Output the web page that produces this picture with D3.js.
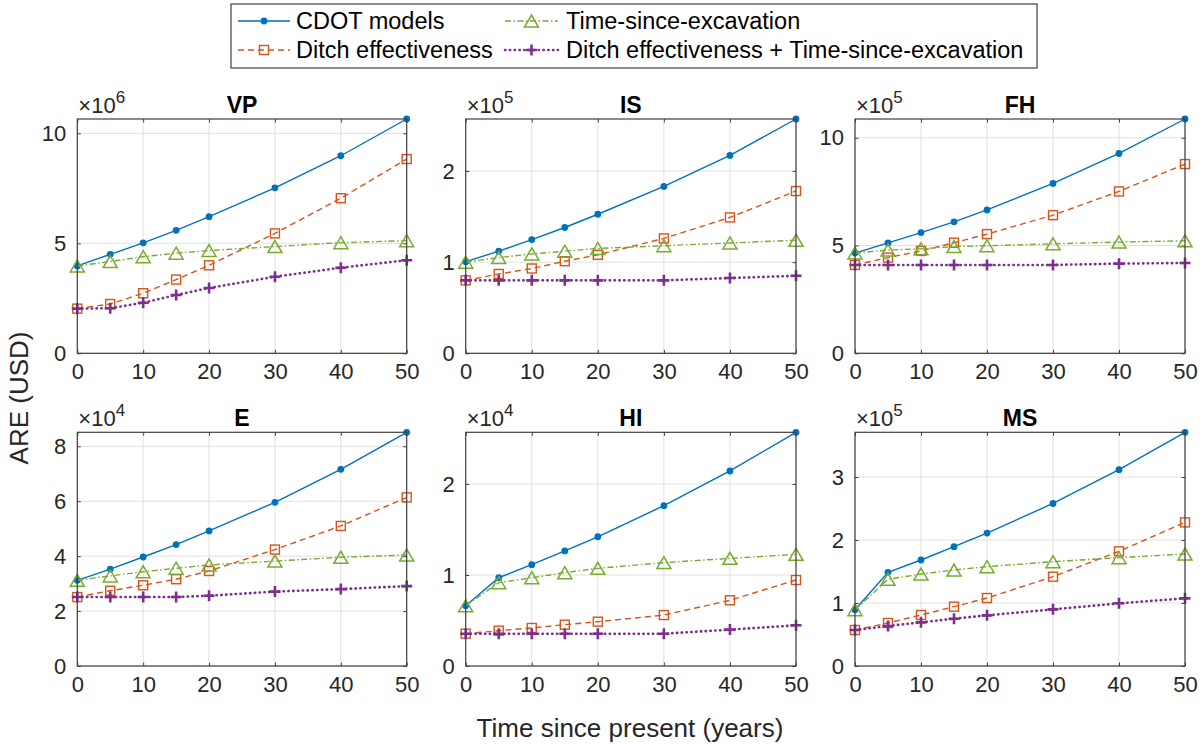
<!DOCTYPE html>
<html>
<head>
<meta charset="utf-8">
<script src="https://cdn.jsdelivr.net/npm/d3@7"></script>
<style>
  html, body { margin: 0; padding: 0; background: #fff; }
  svg { display: block; font-family: "Liberation Sans", Arial, Helvetica, sans-serif; }
</style>
</head>
<body>
<svg id="chart" width="1202" height="744"></svg>
<script>
// ---------------- DATA ----------------
const years = [0, 5, 10, 15, 20, 30, 40, 50];
const panelNames = ["VP", "IS", "FH", "E", "HI", "MS"];
const exponents = [6, 5, 5, 4, 4, 5];
const yTickValues = [
  [0, 5, 10],
  [0, 1, 2],
  [0, 5, 10],
  [0, 2, 4, 6, 8],
  [0, 1, 2],
  [0, 1, 2, 3]
];
const xTickValues = [0, 10, 20, 30, 40, 50];
const seriesNames = ["CDOT models", "Ditch effectiveness", "Time-since-excavation", "Ditch effectiveness + Time-since-excavation"];

// values in units of 10^exponent, one row per panel
const cdotModels = [
  [3.97, 4.50, 5.02, 5.59, 6.21, 7.52, 8.98, 10.65],
  [1.005, 1.12, 1.247, 1.38, 1.525, 1.83, 2.17, 2.57],
  [4.65, 5.12, 5.60, 6.10, 6.65, 7.88, 9.27, 10.87],
  [3.12, 3.53, 3.97, 4.42, 4.92, 5.96, 7.16, 8.51],
  [0.663, 0.97, 1.113, 1.264, 1.42, 1.762, 2.143, 2.568],
  [0.894, 1.487, 1.683, 1.894, 2.11, 2.58, 3.116, 3.71]
];
const ditchEffectiveness = [
  [2.03, 2.24, 2.73, 3.35, 4.00, 5.45, 7.05, 8.83],
  [0.80, 0.87, 0.93, 1.01, 1.08, 1.26, 1.49, 1.78],
  [4.10, 4.44, 4.75, 5.13, 5.53, 6.41, 7.51, 8.78],
  [2.51, 2.74, 2.94, 3.16, 3.46, 4.24, 5.10, 6.14],
  [0.355, 0.388, 0.418, 0.454, 0.487, 0.56, 0.722, 0.945],
  [0.571, 0.683, 0.81, 0.942, 1.079, 1.418, 1.82, 2.28]
];
const timeSinceExcavation = [
  [3.97, 4.17, 4.39, 4.55, 4.67, 4.85, 5.03, 5.12],
  [1.00, 1.05, 1.09, 1.12, 1.15, 1.18, 1.21, 1.24],
  [4.65, 4.79, 4.85, 4.95, 4.99, 5.08, 5.16, 5.22],
  [3.12, 3.28, 3.43, 3.56, 3.68, 3.82, 3.96, 4.04],
  [0.663, 0.916, 0.97, 1.026, 1.073, 1.136, 1.183, 1.227],
  [0.894, 1.376, 1.46, 1.524, 1.577, 1.656, 1.72, 1.778]
];
const ditchPlusTime = [
  [2.03, 2.05, 2.30, 2.65, 2.97, 3.48, 3.89, 4.23],
  [0.80, 0.80, 0.80, 0.80, 0.80, 0.80, 0.826, 0.85],
  [4.10, 4.10, 4.10, 4.10, 4.10, 4.10, 4.16, 4.19],
  [2.51, 2.51, 2.51, 2.51, 2.56, 2.71, 2.80, 2.91],
  [0.355, 0.355, 0.355, 0.355, 0.355, 0.355, 0.40, 0.447],
  [0.571, 0.635, 0.693, 0.751, 0.804, 0.899, 0.995, 1.074]
];

// ---------------- STYLES ----------------
const allSeries = [cdotModels, ditchEffectiveness, timeSinceExcavation, ditchPlusTime];
const styles = [
  { color: "#0072BD", width: 1.4, dash: null, marker: "dot", cap: "butt" },
  { color: "#D95319", width: 1.4, dash: "6,4", marker: "square", cap: "butt" },
  { color: "#77AC30", width: 1.4, dash: "6,2.5,1.5,2.5", marker: "triangle", cap: "butt" },
  { color: "#7E2F8E", width: 2.6, dash: "0.4,4.4", marker: "plus", cap: "round" }
];

const colLeft = [77.3, 465.7, 855];
const colRight = [406.7, 796, 1185];
const rowTop = [119, 432.3];
const rowBottom = [353.3, 666];

const svg = d3.select("#chart");
const textColor = "#262626";

function drawMarker(g, type, x, y, color) {
  if (type === "dot") {
    g.append("circle").attr("cx", x).attr("cy", y).attr("r", 3.4).attr("fill", color);
  } else if (type === "square") {
    const s = 9;
    g.append("rect").attr("x", x - s / 2).attr("y", y - s / 2).attr("width", s).attr("height", s)
      .attr("fill", "none").attr("stroke", color).attr("stroke-width", 1.4);
  } else if (type === "triangle") {
    const h = 12, w = 14;
    g.append("path").attr("d", `M${x},${y - h / 2}L${x + w / 2},${y + h / 2}L${x - w / 2},${y + h / 2}Z`)
      .attr("fill", "none").attr("stroke", color).attr("stroke-width", 1.5);
  } else if (type === "plus") {
    const s = 5.5;
    g.append("path").attr("d", `M${x - s},${y}H${x + s}M${x},${y - s}V${y + s}`)
      .attr("stroke", color).attr("stroke-width", 2.6);
  }
}

panelNames.forEach((name, i) => {
  const col = i % 3, row = Math.floor(i / 3);
  const L = colLeft[col], R = colRight[col], T = rowTop[row], B = rowBottom[row];
  const ymax = d3.max(allSeries, s => d3.max(s[i]));
  const x = d3.scaleLinear().domain([0, 50]).range([L, R]);
  const y = d3.scaleLinear().domain([0, ymax]).range([B, T]);
  const g = svg.append("g");

  // grid
  g.append("g").selectAll("line").data(xTickValues).join("line")
    .attr("x1", d => x(d)).attr("x2", d => x(d)).attr("y1", T).attr("y2", B)
    .attr("stroke", "#e0e0e0").attr("stroke-width", 1);
  g.append("g").selectAll("line").data(yTickValues[i]).join("line")
    .attr("x1", L).attr("x2", R).attr("y1", d => y(d)).attr("y2", d => y(d))
    .attr("stroke", "#e0e0e0").attr("stroke-width", 1);

  // axes via d3 axes (ticks inside)
  const xAxis = d3.axisBottom(x).tickValues(xTickValues).tickSize(-3.5).tickPadding(9).tickFormat(d3.format("d"));
  const xAxisTop = d3.axisTop(x).tickValues(xTickValues).tickSize(-3.5).tickFormat("");
  const yAxis = d3.axisLeft(y).tickValues(yTickValues[i]).tickSize(-3.5).tickPadding(11).tickFormat(d3.format("d"));
  const yAxisRight = d3.axisRight(y).tickValues(yTickValues[i]).tickSize(-3.5).tickFormat("");

  const gx = g.append("g").attr("transform", `translate(0,${B})`).call(xAxis);
  const gxt = g.append("g").attr("transform", `translate(0,${T})`).call(xAxisTop);
  const gy = g.append("g").attr("transform", `translate(${L},0)`).call(yAxis);
  const gyr = g.append("g").attr("transform", `translate(${R},0)`).call(yAxisRight);
  [gx, gxt, gy, gyr].forEach(a => {
    a.select(".domain").remove();
    a.selectAll(".tick line").attr("stroke", "#404040").attr("stroke-width", 1);
    a.selectAll(".tick text").attr("fill", textColor).attr("font-size", 22)
      .attr("font-family", "'Liberation Sans', Arial, sans-serif");
  });
  gx.selectAll(".tick text").attr("dy", "0.75em");

  // data lines
  allSeries.forEach((s, k) => {
    const st = styles[k];
    const line = d3.line().x((d, j) => x(years[j])).y(d => y(d));
    g.append("path").datum(s[i]).attr("d", line).attr("fill", "none")
      .attr("stroke", st.color).attr("stroke-width", st.width)
      .attr("stroke-dasharray", st.dash)
      .attr("stroke-linecap", st.cap);
    const mg = g.append("g");
    s[i].forEach((v, j) => drawMarker(mg, st.marker, x(years[j]), y(v), st.color));
  });

  // box
  g.append("rect").attr("x", L).attr("y", T).attr("width", R - L).attr("height", B - T)
    .attr("fill", "none").attr("stroke", "#404040").attr("stroke-width", 1.2);

  // title
  g.append("text").attr("x", (L + R) / 2).attr("y", T - 6).attr("text-anchor", "middle")
    .attr("font-size", 23).attr("font-weight", "bold").attr("fill", "#000").text(name);

  // exponent label
  const ex = g.append("text").attr("x", L + 1).attr("y", T - 6).attr("font-size", 22).attr("fill", textColor);
  ex.append("tspan").text("×10");
  ex.append("tspan").attr("dy", -10).attr("font-size", 17).text(exponents[i]);
});

// axis labels
svg.append("text").attr("transform", "translate(28,398) rotate(-90)").attr("text-anchor", "middle")
  .attr("font-size", 26).attr("fill", textColor).text("ARE (USD)");
svg.append("text").attr("x", 630).attr("y", 737).attr("text-anchor", "middle")
  .attr("font-size", 26).attr("fill", textColor).text("Time since present (years)");

// legend
const lg = svg.append("g");
lg.append("rect").attr("x", 231).attr("y", 4).attr("width", 806).attr("height", 64)
  .attr("fill", "#fff").attr("stroke", "#404040").attr("stroke-width", 1.2);
const legPos = [
  { x1: 238, x2: 290, tx: 296, y: 21 },
  { x1: 238, x2: 290, tx: 296, y: 50 },
  { x1: 505, x2: 558, tx: 566, y: 21 },
  { x1: 505, x2: 558, tx: 566, y: 50 }
];
seriesNames.forEach((n, k) => {
  const p = legPos[k], st = styles[k];
  lg.append("line").attr("x1", p.x1).attr("x2", p.x2).attr("y1", p.y).attr("y2", p.y)
    .attr("stroke", st.color).attr("stroke-width", st.width).attr("stroke-dasharray", st.dash)
    .attr("stroke-linecap", st.cap);
  drawMarker(lg, st.marker, (p.x1 + p.x2) / 2, p.y, st.color);
  lg.append("text").attr("x", p.tx).attr("y", p.y).attr("dy", "0.35em")
    .attr("font-size", 23.5).attr("fill", "#000").text(n);
});
</script>
</body>
</html>
